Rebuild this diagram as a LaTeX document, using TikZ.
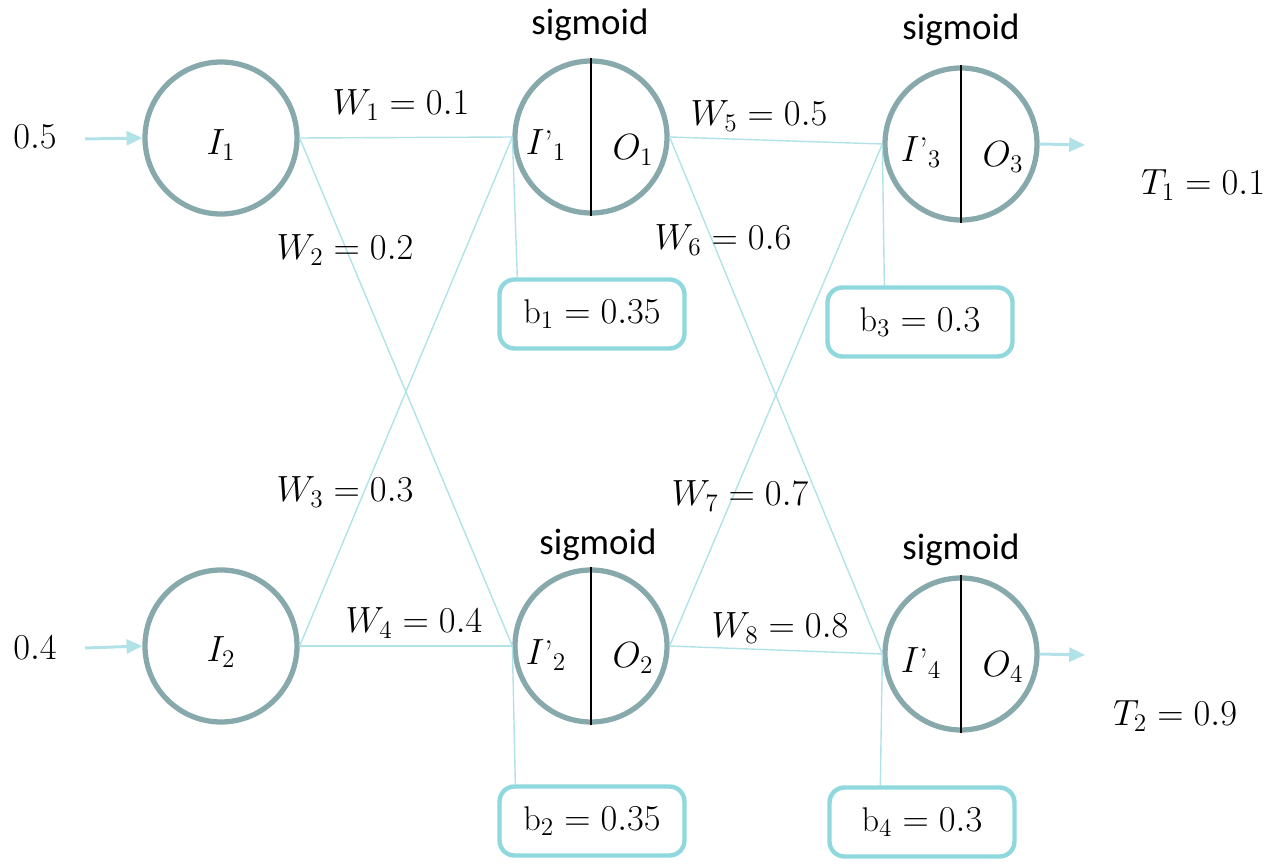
\documentclass[tikz,border=0pt]{standalone}
\usepackage{fontspec}
\newfontfamily\sigfont{Carlito}
\usetikzlibrary{arrows.meta,calc}
\definecolor{ring}{HTML}{87A9AB}
\definecolor{boxc}{HTML}{8ED8DE}
\definecolor{wire}{HTML}{B0E2E8}
\tikzset{
  neuron/.style={circle,draw=ring,line width=3pt,minimum size=3.04cm,inner sep=0pt},
  biasbox/.style={draw=boxc,line width=2.5pt,rounded corners=0.3cm,minimum width=3.7cm,minimum height=1.38cm,inner sep=0pt,font=\fontsize{19.5}{22}\selectfont},
  wirel/.style={draw=wire,line width=0.8pt},
  inarrow/.style={draw=wire,line width=1.7pt,-{Triangle[length=9pt,width=8pt]}},
  lbl/.style={font=\fontsize{19.5}{22}\selectfont,inner sep=0pt},
  siglbl/.style={font=\sigfont\fontsize{21}{24}\selectfont,inner sep=0pt},
  divider/.style={draw=black,line width=1.1pt}
}
\begin{document}
\begin{tikzpicture}[x=0.02cm,y=-0.02cm]
\useasboundingbox (0,0) rectangle (1265,868);
% neurons
\node[neuron] (I1) at (221,138) {};
\node[neuron] (I2) at (221,646) {};
\node[neuron] (H1) at (591,137) {};
\node[neuron] (H2) at (591,646) {};
\node[neuron] (O3) at (961,144) {};
\node[neuron] (O4) at (961,654) {};
% labels in neurons
\node[lbl] (tI1) at (221,145) {$I_1$};
\node[lbl] (tI2) at (221,652) {$I_2$};
\node[lbl] (tH1a) at (546,145) {$I\mbox{’}_1$};
\node[lbl] (tH1b) at (633,150) {$O_1$};
\node[lbl] (tH2a) at (546,655) {$I\mbox{’}_2$};
\node[lbl] (tH2b) at (633,658) {$O_2$};
\node[lbl] (tO3a) at (921,152) {$I\mbox{’}_3$};
\node[lbl] (tO3b) at (1003,157) {$O_3$};
\node[lbl] (tO4a) at (921,663) {$I\mbox{’}_4$};
\node[lbl] (tO4b) at (1003,667) {$O_4$};
% dividers
\draw[divider] (H1.north) -- (H1.south);
\draw[divider] (H2.north) -- (H2.south);
\draw[divider] (O3.north) -- (O3.south);
\draw[divider] (O4.north) -- (O4.south);
% sigmoid labels
\node[siglbl] (s1) at (590,25) {sigmoid};
\node[siglbl] (s2) at (961,30) {sigmoid};
\node[siglbl] (s3) at (598,545) {sigmoid};
\node[siglbl] (s4) at (961,550) {sigmoid};
% bias boxes
\node[biasbox] (b1) at (592,314) {$\mathrm{b}_1 = 0.35$};
\node[biasbox] (b2) at (592,821) {$\mathrm{b}_2 = 0.35$};
\node[biasbox] (b3) at (920,322) {$\mathrm{b}_3 = 0.3$};
\node[biasbox] (b4) at (922,822) {$\mathrm{b}_4 = 0.3$};
% inputs and outputs
\node[lbl] (x1) at (35,137) {$0.5$};
\node[lbl] (x2) at (35,648) {$0.4$};
\coordinate (a1) at (85,139);
\coordinate (a2) at (85,648);
\coordinate (e3) at (1085,145);
\coordinate (e4) at (1085,655);
\node[lbl] (T1) at (1203,185) {$T_1 = 0.1$};
\node[lbl] (T2) at (1175,716) {$T_2 = 0.9$};
\draw[inarrow] (a1) -- (I1.west);
\draw[inarrow] (a2) -- (I2.west);
\draw[inarrow] (O3.east) -- (e3);
\draw[inarrow] (O4.east) -- (e4);
% weights
\draw[wirel] (I1.east) -- (H1.west);
\draw[wirel] (I1.east) -- (H2.west);
\draw[wirel] (I2.east) -- (H1.west);
\draw[wirel] (I2.east) -- (H2.west);
\draw[wirel] (H1.east) -- (O3.west);
\draw[wirel] (H1.east) -- (O4.west);
\draw[wirel] (H2.east) -- (O3.west);
\draw[wirel] (H2.east) -- (O4.west);
% bias wires
\draw[wirel] (H1.west) -- ($(b1.north west)+(20,0)$);
\draw[wirel] (H2.west) -- ($(b2.north west)+(18,0)$);
\draw[wirel] (O3.west) -- ($(b3.north west)+(59,0)$);
\draw[wirel] (O4.west) -- ($(b4.north west)+(53,0)$);
% weight labels
\node[lbl] (w1) at (401,105) {$W_1 = 0.1$};
\node[lbl] (w2) at (345,250) {$W_2 = 0.2$};
\node[lbl] (w3) at (345,492) {$W_3 = 0.3$};
\node[lbl] (w4) at (414,623) {$W_4 = 0.4$};
\node[lbl] (w5) at (759,116) {$W_5 = 0.5$};
\node[lbl] (w6) at (723,240) {$W_6 = 0.6$};
\node[lbl] (w7) at (740,496) {$W_7 = 0.7$};
\node[lbl] (w8) at (780,628) {$W_8 = 0.8$};
\end{tikzpicture}
\end{document}
